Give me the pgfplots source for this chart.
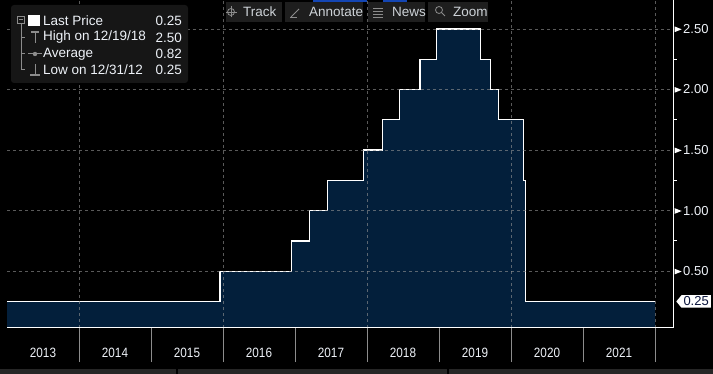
\documentclass[border=0pt]{standalone}
\usepackage{fontspec}
\setmainfont{Liberation Sans}
\usepackage{graphicx}
\usepackage{pgfplots}
\pgfplotsset{compat=1.18}
\usetikzlibrary{shapes.symbols}
\definecolor{navy}{RGB}{3,31,59}
\definecolor{legbg}{RGB}{22,22,22}
\definecolor{btnbg}{RGB}{30,30,30}
\definecolor{gridc}{RGB}{150,150,150}
\definecolor{divc}{RGB}{140,140,140}
\definecolor{txt}{RGB}{238,242,248}
\definecolor{icon}{RGB}{140,140,140}
\definecolor{btntxt}{RGB}{205,210,215}
\definecolor{strip}{RGB}{38,38,38}
\definecolor{topblue}{RGB}{20,70,180}
\definecolor{tagtxt}{RGB}{10,20,60}
\newcommand\yr[1]{\scalebox{0.87}[1]{#1}}
\begin{document}
\begin{tikzpicture}[x=1pt,y=1pt]
\fill[black] (0,0) rectangle (713,374);
\path[use as bounding box] (0,0) rectangle (713,374);
\begin{axis}[
  at={(7pt,46pt)}, anchor=south west,
  width=666pt, height=328pt, scale only axis,
  xmin=2013, xmax=2022.25, ymin=0.031, ymax=2.739,
  axis x line*=bottom, axis y line*=right,
  axis line style={white, line width=1pt, -},
  axis on top,
  tick align=outside,
  major tick length=0pt, minor tick length=3.5pt,
  every minor tick/.style={white, line width=1pt},
  xtick={2013.5,2014.5,2015.5,2016.5,2017.5,2018.5,2019.5,2020.5,2021.5},
  xticklabels={\yr{2013},\yr{2014},\yr{2015},\yr{2016},\yr{2017},\yr{2018},\yr{2019},\yr{2020},\yr{2021}},
  xticklabel style={anchor=center, yshift=-25pt, text=txt, font=\fontsize{13.5}{15}\selectfont},
  minor xtick={2014,2016,2018,2020,2022},
  xminorgrids=true,
  extra x ticks={2014,2015,2016,2017,2018,2019,2020,2021,2022},
  extra x tick labels={},
  extra x tick style={major tick length=34pt, grid=none, tick style={divc, line width=1pt}},
  ytick={0.5,1,1.5,2,2.5},
  minor ytick={0.75,1.25,1.75,2.25},
  ymajorgrids=true,
  major grid style={gridc, opacity=0.6, line width=0.8pt, dash pattern=on 3pt off 3pt},
  minor grid style={gridc, opacity=0.6, line width=0.8pt, dash pattern=on 3pt off 3pt},
  /pgf/number format/assume math mode=true,
  yticklabel={\tikz[baseline=-0.6ex]\fill[white] (0,-2.8pt)--(7pt,0)--(0,2.8pt)--cycle;\hspace{1.5pt}\pgfmathprintnumber[fixed,fixed zerofill,precision=2]{\tick}},
  yticklabel style={anchor=west, inner sep=0pt, xshift=1.5pt, text=txt, font=\fontsize{13}{14}\selectfont},
]
\addplot[const plot, fill=navy, draw=none] table {
x y
2013.000 0.25
2015.959 0.50
2016.954 0.75
2017.203 1.00
2017.452 1.25
2017.951 1.50
2018.219 1.75
2018.449 2.00
2018.737 2.25
2018.967 2.50
2019.581 2.25
2019.715 2.00
2019.830 1.75
2020.172 1.25
2020.205 0.25
2022.000 0.25
} \closedcycle;
\addplot[const plot, white, line width=1.2pt] table {
x y
2013.000 0.25
2015.959 0.50
2016.954 0.75
2017.203 1.00
2017.452 1.25
2017.951 1.50
2018.219 1.75
2018.449 2.00
2018.737 2.25
2018.967 2.50
2019.581 2.25
2019.715 2.00
2019.830 1.75
2020.172 1.25
2020.205 0.25
2022.000 0.25
};
\coordinate (lp) at (axis cs:2022.25,0.25);
\end{axis}
% last price tag
\node[signal, signal to=west, signal pointer angle=100, fill=white, text=tagtxt,
  inner xsep=2pt, inner ysep=1pt, minimum height=12.5pt, anchor=west,
  font=\fontsize{13}{14}\selectfont] at ([xshift=3pt]lp) {0.25};
% legend
\fill[legbg, rounded corners=3pt] (11,291) rectangle (188,369);
\begin{scope}[icon, line width=1pt]
  \draw (17.5,350.5) rectangle (24.5,357.5);
  \draw (19,354) -- (23,354);
  \draw (21,350.5) -- (21,304);
  \draw (21,336.5) -- (25,336.5);
  \draw (21,320) -- (25,320);
  \draw (21,304) -- (25,304);
  \draw (35,331) -- (35,342); \draw[line width=1.4pt] (31,342) -- (39,342);
  \draw (28,320) -- (42,320); \fill (35,320) circle (2.2);
  \draw (35,299) -- (35,310); \draw[line width=1.6pt] (30,299) -- (40,299);
\end{scope}
\fill[white] (28,348) rectangle (40,359);
\begin{scope}[every node/.style={text=txt, font=\fontsize{13.5}{15}\selectfont, inner sep=0pt}]
  \node[anchor=west] at (43,353) {Last Price};
  \node[anchor=west] at (43,336.5) {High on 12/19/18};
  \node[anchor=west] at (43,320) {Average};
  \node[anchor=west] at (43,304) {Low on 12/31/12};
  \node[anchor=east] at (182,353) {0.25};
  \node[anchor=east] at (182,336.5) {2.50};
  \node[anchor=east] at (182,320) {0.82};
  \node[anchor=east] at (182,304) {0.25};
\end{scope}
% toolbar
\fill[topblue] (313,372) rectangle (367,374);
\fill[topblue] (383,372) rectangle (407,374);
\fill[btnbg] (226,352) rectangle (282,372);
\fill[btnbg] (285,352) rectangle (363,372);
\fill[btnbg] (368,352) rectangle (425,372);
\fill[btnbg] (428,352) rectangle (488,372);
\begin{scope}[icon, line width=0.8pt]
  \draw (231,362) circle (3.5);
  \draw (225.5,362) -- (236.5,362);
  \draw (231,356.5) -- (231,367.5);
  \draw (291,357) -- (299,365);
  \draw (290,356.5) -- (297,356.5);
  \draw (373,366) -- (383,366);
  \draw (373,363) -- (383,363);
  \draw (373,360) -- (383,360);
  \draw (373,357) -- (383,357);
  \draw (439,364) circle (3.5);
  \draw (441.5,361.5) -- (445,358);
\end{scope}
\begin{scope}[every node/.style={text=btntxt, font=\fontsize{13.5}{15}\selectfont, inner sep=0pt, anchor=west}]
  \node at (243,362) {Track};
  \node at (309,362) {Annotate};
  \node at (392,362) {News};
  \node at (453,362) {Zoom};
\end{scope}
% bottom strip
\fill[strip] (0,0) rectangle (176,5);
\fill[strip] (178,0) rectangle (447,5);
\fill[strip] (449,0) rectangle (713,5);
\end{tikzpicture}
\end{document}
